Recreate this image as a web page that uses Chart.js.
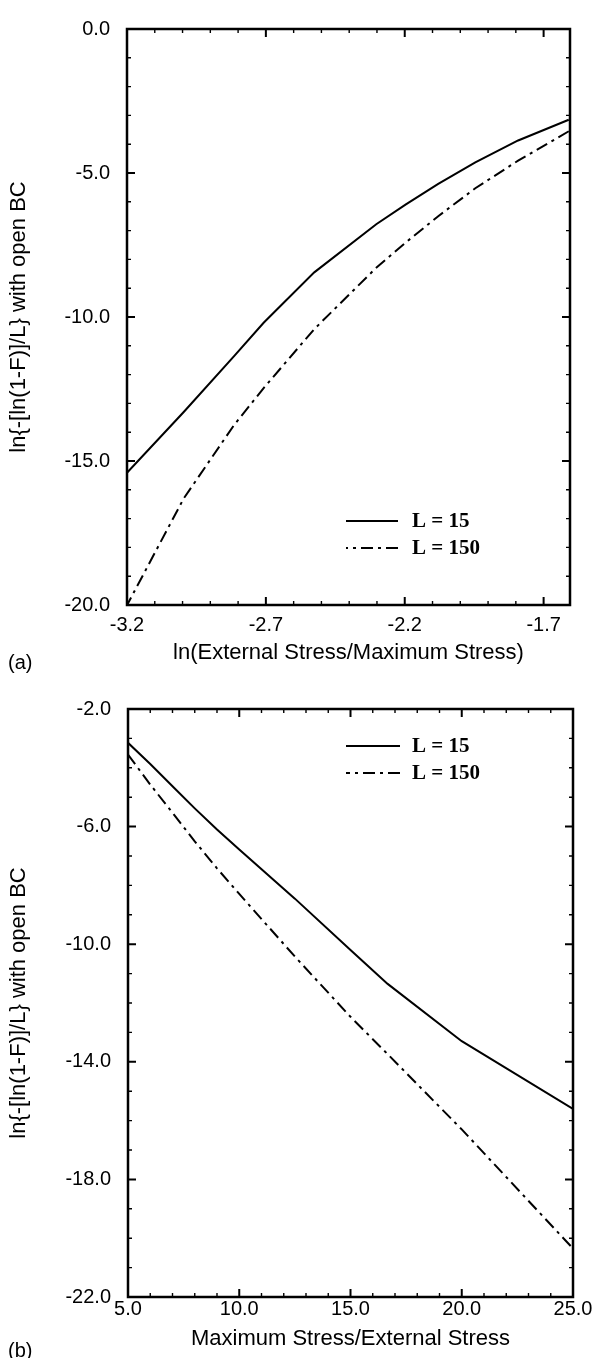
<!DOCTYPE html>
<html>
<head>
<meta charset="utf-8">
<script src="https://cdn.jsdelivr.net/npm/chart.js@4.4.1/dist/chart.umd.min.js"></script>
<style>
  html, body { margin: 0; padding: 0; background: #fff; }
  #page { position: relative; width: 595px; height: 1358px; overflow: hidden; background: #fff; }
  .panel { position: absolute; left: 0; width: 595px; }
  #wrapA { top: 0; height: 680px; }
  #wrapB { top: 680px; height: 678px; }
  .tag { position: absolute; left: 8px; font: 20px "Liberation Sans", Arial, sans-serif; color: #000; line-height: 20px; }
</style>
</head>
<body>
<div id="page">
  <div class="panel" id="wrapA"><canvas id="chartA" width="595" height="680"></canvas></div>
  <div class="panel" id="wrapB"><canvas id="chartB" width="595" height="678"></canvas></div>
  <div class="tag" style="top:652px">(a)</div>
  <div class="tag" style="top:1340px">(b)</div>
</div>
<script>
// Ratio of maximum stress to external stress at which the curves were evaluated
const maxOverExternal = [5, 6, 7, 8, 9, 10, 12.5, 15, 16.67, 20, 25];
// ln{-[ln(1-F)]/L} with open boundary conditions
const logHazardL15  = [-3.15, -3.87, -4.63, -5.38, -6.10, -6.78, -8.45, -10.20, -11.35, -13.30, -15.60];
const logHazardL150 = [-3.55, -4.57, -5.53, -6.50, -7.42, -8.29, -10.42, -12.47, -13.74, -16.30, -20.35];
const seriesLabels = ['L = 15', 'L = 150'];

// Axis tick labels
const xTicksA = [-3.2, -2.7, -2.2, -1.7];
const yTicksA = [0, -5, -10, -15, -20];
const xTicksB = [5, 10, 15, 20, 25];
const yTicksB = [-2, -6, -10, -14, -18, -22];

const SANS = '"Liberation Sans", Arial, Helvetica, sans-serif';
const SERIF = '"Liberation Serif", "Times New Roman", serif';
const DASH_DOT = [12, 5, 3, 5];

// Frame around the plot area with inward-pointing major and minor ticks on all four sides
const frameTicks = {
  id: 'frameTicks',
  afterDatasetsDraw(chart, args, opts) {
    const { ctx, chartArea: a, scales } = chart;
    const sx = scales.x, sy = scales.y;
    const minorValues = (scale, majors, step) => {
      const out = [];
      const m0 = majors[0];
      const kMin = Math.ceil((scale.min - m0) / step - 1e-6);
      const kMax = Math.floor((scale.max - m0) / step + 1e-6);
      for (let k = kMin; k <= kMax; k++) {
        const v = m0 + k * step;
        if (!majors.some(m => Math.abs(m - v) < step / 10)) out.push(v);
      }
      return out;
    };
    ctx.save();
    ctx.strokeStyle = '#000';
    ctx.lineCap = 'butt';
    const drawX = (vals, len, w) => {
      ctx.lineWidth = w;
      vals.forEach(v => {
        const px = sx.getPixelForValue(v);
        ctx.beginPath();
        ctx.moveTo(px, a.bottom); ctx.lineTo(px, a.bottom - len);
        ctx.moveTo(px, a.top); ctx.lineTo(px, a.top + len);
        ctx.stroke();
      });
    };
    const drawY = (vals, len, w) => {
      ctx.lineWidth = w;
      vals.forEach(v => {
        const py = sy.getPixelForValue(v);
        ctx.beginPath();
        ctx.moveTo(a.left, py); ctx.lineTo(a.left + len, py);
        ctx.moveTo(a.right, py); ctx.lineTo(a.right - len, py);
        ctx.stroke();
      });
    };
    drawX(minorValues(sx, opts.xMajor, opts.xMinor), 4, 1.4);
    drawY(minorValues(sy, opts.yMajor, opts.yMinor), 4, 1.4);
    drawX(opts.xMajor, 8, 2);
    drawY(opts.yMajor, 8, 2);
    ctx.lineWidth = 2.5;
    ctx.strokeRect(a.left, a.top, a.right - a.left, a.bottom - a.top);
    ctx.restore();
  }
};

// Key placed inside the plot area: line sample followed by the series label
const insetLegend = {
  id: 'insetLegend',
  afterDraw(chart, args, opts) {
    const ctx = chart.ctx;
    ctx.save();
    chart.data.datasets.forEach((ds, i) => {
      const yy = opts.y + i * opts.rowGap;
      ctx.strokeStyle = '#000';
      ctx.lineWidth = ds.borderWidth;
      ctx.setLineDash(ds.borderDash || []);
      ctx.beginPath();
      ctx.moveTo(opts.x2, yy);
      ctx.lineTo(opts.x1, yy);
      ctx.stroke();
      ctx.setLineDash([]);
      ctx.fillStyle = '#000';
      ctx.font = 'bold 21px ' + SERIF;
      ctx.textAlign = 'left';
      ctx.textBaseline = 'middle';
      ctx.fillText(ds.label, opts.textX, yy + 1);
    });
    ctx.restore();
  }
};

function makeDatasets(xOf) {
  const pts = ys => maxOverExternal.map((r, i) => ({ x: xOf(r), y: ys[i] }));
  return [
    { label: seriesLabels[0], data: pts(logHazardL15), borderColor: '#000', borderWidth: 2,
      borderDash: [], pointRadius: 0, tension: 0, fill: false, clip: 0 },
    { label: seriesLabels[1], data: pts(logHazardL150), borderColor: '#000', borderWidth: 2,
      borderDash: DASH_DOT, pointRadius: 0, tension: 0, fill: false, clip: 0 }
  ];
}

function axis(cfg) {
  return {
    type: 'linear',
    min: cfg.min,
    max: cfg.max,
    afterBuildTicks: s => { s.ticks = cfg.ticks.map(v => ({ value: v })); },
    afterFit: s => { if (cfg.width) s.width = cfg.width; if (cfg.height) s.height = cfg.height; },
    grid: { display: false, drawTicks: false },
    border: { display: false },
    ticks: {
      color: '#000', padding: cfg.pad, autoSkip: false, maxRotation: 0, minRotation: 0,
      font: { family: SANS, size: 20 },
      callback: v => Number(v).toFixed(1)
    },
    title: {
      display: true, text: cfg.title, color: '#000',
      font: { family: SANS, size: 22 },
      padding: cfg.titlePad
    }
  };
}

function build(id, c) {
  return new Chart(document.getElementById(id), {
    type: 'line',
    data: { datasets: makeDatasets(c.xOf) },
    options: {
      responsive: false, animation: false, devicePixelRatio: 1,
      layout: { padding: c.padding },
      plugins: {
        legend: { display: false }, tooltip: { enabled: false },
        frameTicks: c.frame, insetLegend: c.legend
      },
      scales: { x: c.x, y: c.y }
    },
    plugins: [frameTicks, insetLegend]
  });
}

// (a) against ln(External Stress/Maximum Stress)
build('chartA', {
  xOf: r => Math.log(1 / r),
  padding: { top: 14, right: 25, left: 0, bottom: 0 },
  x: axis({ min: -3.2, max: -1.605, ticks: xTicksA, height: 75, pad: 8,
            title: 'ln(External Stress/Maximum Stress)', titlePad: { top: 0, bottom: 14 } }),
  y: axis({ min: -20, max: 0, ticks: yTicksA, width: 127, pad: 17,
            title: 'ln{-[ln(1-F)]/L} with open BC', titlePad: { top: 6, bottom: 0 } }),
  frame: { xMajor: xTicksA, xMinor: 0.1, yMajor: yTicksA, yMinor: 1 },
  legend: { x1: 346, x2: 398, textX: 412, y: 521, rowGap: 27 }
});

// (b) against Maximum Stress/External Stress
build('chartB', {
  xOf: r => r,
  padding: { top: 25, right: 22, left: 0, bottom: 0 },
  x: axis({ min: 5, max: 25, ticks: xTicksB, height: 61, pad: 0,
            title: 'Maximum Stress/External Stress', titlePad: { top: 0, bottom: 6 } }),
  y: axis({ min: -22, max: -2, ticks: yTicksB, width: 128, pad: 17,
            title: 'ln{-[ln(1-F)]/L} with open BC', titlePad: { top: 6, bottom: 0 } }),
  frame: { xMajor: xTicksB, xMinor: 1, yMajor: yTicksB, yMinor: 1 },
  legend: { x1: 346, x2: 400, textX: 412, y: 66, rowGap: 27 }
});
</script>
</body>
</html>
